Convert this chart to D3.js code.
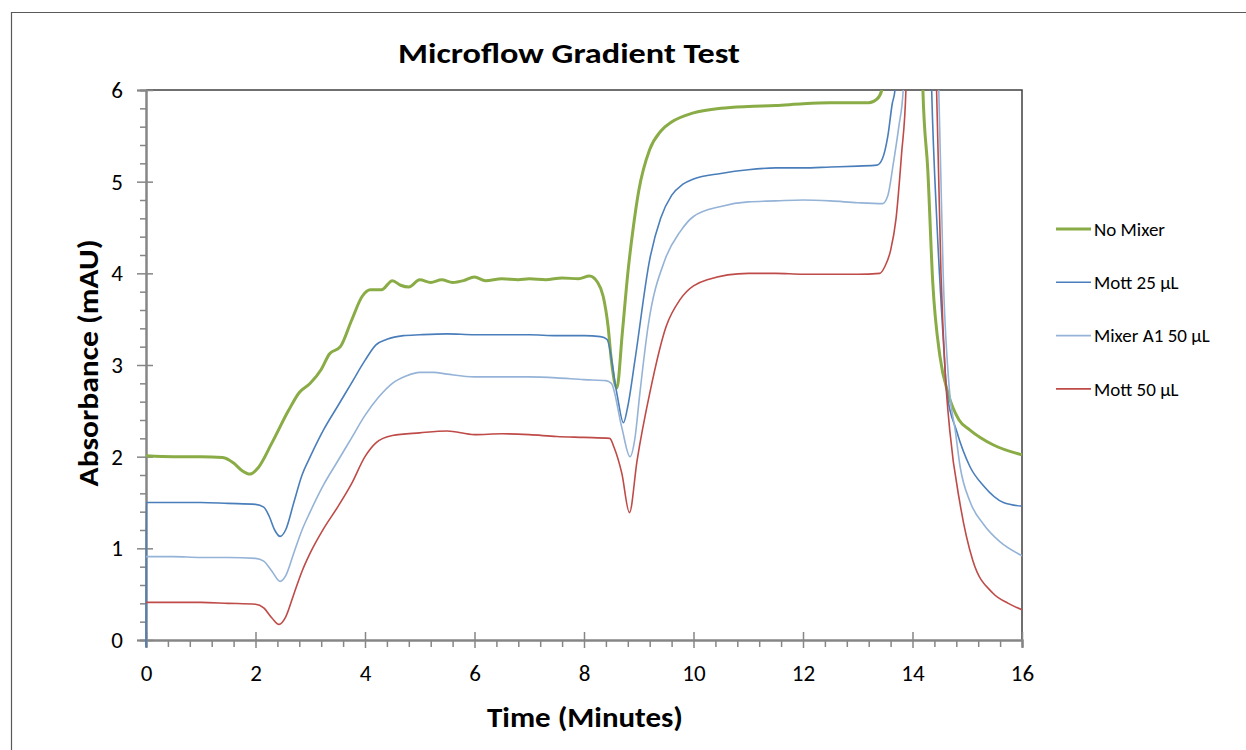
<!DOCTYPE html>
<html>
<head>
<meta charset="utf-8">
<script src="https://cdn.jsdelivr.net/npm/d3@7"></script>
<style>
    body { margin: 0; background: #fff; }
    text { font-family: Carlito, Calibri, Lato, sans-serif; fill: #000; }
</style>
</head>
<body>
<div id="chart"></div>
<script>
// tick values
const xTicks = [0, 2, 4, 6, 8, 10, 12, 14, 16];
const yTicks = [0, 1, 2, 3, 4, 5, 6];
const seriesNames = ["No Mixer", "Mott 25 µL", "Mixer A1 50 µL", "Mott 50 µL"];

// [time (min), absorbance (mAU)]
const noMixer = [[0, 2.01], [0.5, 2.0], [1.0, 2.0], [1.4, 1.99], [1.6, 1.93], [1.75, 1.85], [1.9, 1.81], [2.05, 1.88],
    [2.3, 2.15], [2.6, 2.5], [2.8, 2.7], [3.0, 2.8], [3.2, 2.95], [3.35, 3.12], [3.55, 3.2], [3.75, 3.48], [3.95, 3.75],
    [4.1, 3.82], [4.3, 3.82], [4.5, 3.92], [4.65, 3.87], [4.8, 3.85], [5.0, 3.93], [5.2, 3.9], [5.4, 3.93], [5.6, 3.9],
    [5.8, 3.92], [6.0, 3.96], [6.2, 3.92], [6.5, 3.94], [6.8, 3.93], [7.0, 3.94], [7.3, 3.93], [7.6, 3.95], [7.9, 3.94],
    [8.1, 3.97], [8.25, 3.9], [8.35, 3.75], [8.44, 3.42], [8.5, 3.05], [8.6, 2.75], [8.7, 3.35], [8.8, 4.0], [8.9, 4.5],
    [9.0, 4.9], [9.2, 5.35], [9.4, 5.55], [9.6, 5.65], [10.0, 5.75], [10.5, 5.8], [11.0, 5.82], [11.5, 5.83], [12.0, 5.85],
    [12.5, 5.86], [13.0, 5.86], [13.2, 5.86], [13.35, 5.9], [13.44, 6.0], [13.55, 7.5], [13.7, 9], [14.1, 9], [14.19, 6.0],
    [14.28, 5.12], [14.37, 3.9], [14.5, 3.1], [14.65, 2.69], [14.85, 2.4], [15.05, 2.29], [15.47, 2.13], [16, 2.02]];

const mott25 = [[0, -0.08], [0.004, 1.5], [0.5, 1.5], [1.0, 1.5], [1.5, 1.49], [2.0, 1.48], [2.15, 1.45], [2.25, 1.35],
    [2.35, 1.2], [2.45, 1.13], [2.55, 1.2], [2.7, 1.5], [2.85, 1.8], [3.0, 2.0], [3.25, 2.3], [3.5, 2.55], [3.75, 2.8],
    [4.0, 3.05], [4.2, 3.22], [4.4, 3.28], [4.7, 3.32], [5.0, 3.33], [5.5, 3.34], [6.0, 3.33], [6.5, 3.33], [7.0, 3.33],
    [7.5, 3.32], [8.0, 3.32], [8.3, 3.31], [8.42, 3.28], [8.6, 2.69], [8.72, 2.37], [8.8, 2.55], [8.93, 3.05], [9.2, 4.15],
    [9.4, 4.6], [9.6, 4.85], [9.8, 4.97], [10.0, 5.03], [10.5, 5.09], [11.0, 5.13], [11.5, 5.15], [12.0, 5.15], [12.5, 5.16],
    [13.0, 5.17], [13.35, 5.18], [13.45, 5.25], [13.55, 5.5], [13.63, 5.85], [13.68, 6.0], [13.8, 9], [14.25, 9],
    [14.35, 6.0], [14.45, 4.5], [14.55, 3.4], [14.63, 2.69], [14.8, 2.29], [15.05, 1.89], [15.3, 1.68], [15.66, 1.5], [16, 1.46]];

const mixerA1 = [[0, 0.91], [0.5, 0.91], [1.0, 0.9], [1.5, 0.9], [2.0, 0.89], [2.15, 0.86], [2.3, 0.75], [2.45, 0.64],
    [2.55, 0.7], [2.7, 0.95], [2.85, 1.2], [3.0, 1.4], [3.25, 1.7], [3.5, 1.95], [3.75, 2.2], [4.0, 2.45], [4.25, 2.65],
    [4.5, 2.8], [4.75, 2.88], [5.0, 2.92], [5.25, 2.92], [5.5, 2.9], [6.0, 2.87], [6.5, 2.87], [7.0, 2.87], [7.5, 2.86],
    [8.0, 2.84], [8.4, 2.83], [8.5, 2.8], [8.69, 2.32], [8.84, 2.0], [8.93, 2.2], [9.02, 2.69], [9.17, 3.42], [9.48, 4.15],
    [9.75, 4.45], [10.0, 4.62], [10.5, 4.73], [11.0, 4.78], [11.5, 4.79], [12.0, 4.8], [12.5, 4.79], [13.0, 4.77],
    [13.45, 4.76], [13.55, 4.85], [13.65, 5.2], [13.75, 5.6], [13.83, 6.0], [13.9, 9], [14.4, 9], [14.48, 6.0],
    [14.56, 4.0], [14.68, 2.69], [14.78, 2.29], [14.87, 1.89], [15.05, 1.51], [15.3, 1.26], [15.6, 1.07], [16, 0.92]];

const mott50 = [[0, 0.41], [0.5, 0.41], [1.0, 0.41], [1.5, 0.4], [2.0, 0.39], [2.15, 0.35], [2.3, 0.24], [2.43, 0.17],
    [2.55, 0.25], [2.7, 0.5], [2.85, 0.75], [3.0, 0.95], [3.25, 1.22], [3.5, 1.45], [3.75, 1.7], [4.0, 2.0], [4.2, 2.15],
    [4.5, 2.23], [5.0, 2.26], [5.5, 2.28], [6.0, 2.24], [6.5, 2.25], [7.0, 2.24], [7.5, 2.22], [8.0, 2.21], [8.47, 2.2],
    [8.55, 2.1], [8.69, 1.82], [8.83, 1.39], [8.97, 1.96], [9.2, 2.69], [9.5, 3.42], [9.75, 3.71], [10.25, 3.93],
    [11.0, 4.0], [11.5, 4.0], [12.0, 3.99], [12.5, 3.99], [13.0, 3.99], [13.4, 4.0], [13.5, 4.08], [13.6, 4.25],
    [13.7, 4.6], [13.8, 5.3], [13.88, 6.0], [13.95, 9], [14.35, 9], [14.44, 6.0], [14.52, 4.0], [14.6, 2.89],
    [14.68, 2.29], [14.87, 1.48], [15.1, 0.87], [15.47, 0.51], [15.75, 0.4], [16, 0.33]];

const seriesData = [noMixer, mott25, mixerA1, mott50];
const colors = ["#8aac46", "#4a7ebb", "#95b3d7", "#be4b48"];
const widths = [3, 1.6, 1.6, 1.6];

let W = 1246, H = 750;
let margin = { top: 90, right: 224, bottom: 110, left: 146 },
    width = W - margin.left - margin.right,
    height = H - margin.top - margin.bottom;

let svg = d3.select("#chart")
    .append("svg")
    .attr("width", W)
    .attr("height", H);

// outer chart frame
svg.append("path")
    .attr("d", "M11.5," + (H + 5) + "V12.5H" + (W + 5))
    .attr("fill", "none")
    .attr("stroke", "#595959")
    .attr("stroke-width", 1.2);

svg.append("text")
    .attr("x", 569)
    .attr("y", 63)
    .attr("text-anchor", "middle")
    .attr("textLength", 342)
    .attr("lengthAdjust", "spacingAndGlyphs")
    .style("font-size", "29px")
    .style("font-weight", "bold")
    .text("Microflow Gradient Test");

let g = svg.append("g")
    .attr("transform", "translate(" + margin.left + "," + margin.top + ")");

let x = d3.scaleLinear().domain([0, 16]).range([0, width]);
let y = d3.scaleLinear().domain([0, 6]).range([height, 0]);

// plot border (top / right)
g.append("path")
    .attr("d", "M0,0H" + width + "V" + height)
    .attr("fill", "none")
    .attr("stroke", "#404040")
    .attr("stroke-width", 1.5);

g.append("clipPath")
    .attr("id", "plotClip")
    .append("rect")
    .attr("x", -2).attr("y", 0)
    .attr("width", width + 3).attr("height", height + 10);

let line = d3.line()
    .x(d => x(d[0]))
    .y(d => y(d[1]))
    .curve(d3.curveMonotoneX);

// minor ticks
let xMinor = d3.range(0, 16.01, 0.4).filter(v => Math.abs(v / 2 - Math.round(v / 2)) > 0.01);
let yMinor = d3.range(0, 6.01, 0.2).filter(v => Math.abs(v - Math.round(v)) > 0.01);

g.append("g")
    .attr("class", "minor")
    .attr("transform", "translate(0," + height + ")")
    .call(d3.axisBottom(x).tickValues(xMinor).tickSize(7).tickFormat(""));
g.append("g")
    .attr("class", "minor")
    .call(d3.axisLeft(y).tickValues(yMinor).tickSize(6).tickFormat(""));

let xAxis = g.append("g")
    .attr("transform", "translate(0," + height + ")")
    .call(d3.axisBottom(x).tickValues(xTicks).tickSize(8).tickPadding(16).tickFormat(d3.format("d")));
xAxis.selectAll(".tick line").attr("y1", -8);

let yAxis = g.append("g")
    .call(d3.axisLeft(y).tickValues(yTicks).tickSize(9).tickPadding(14).tickFormat(d3.format("d")));
yAxis.selectAll(".tick line").attr("x1", 7);

g.selectAll(".domain").attr("stroke", "#868686").attr("stroke-width", 2);
g.selectAll(".tick line").attr("stroke", "#868686").attr("stroke-width", 1.5);
g.selectAll(".tick text").style("font-size", "23px").attr("fill", "#000");
xAxis.selectAll(".tick text").attr("dy", "0.72em");

// series
g.append("g")
    .attr("clip-path", "url(#plotClip)")
    .selectAll("path")
    .data(seriesData)
    .enter()
    .append("path")
    .attr("d", line)
    .attr("fill", "none")
    .attr("stroke", (d, i) => colors[i])
    .attr("stroke-width", (d, i) => widths[i])
    .attr("stroke-linejoin", "round");

// axis titles
svg.append("text")
    .attr("x", 585)
    .attr("y", 727)
    .attr("text-anchor", "middle")
    .attr("textLength", 196)
    .attr("lengthAdjust", "spacingAndGlyphs")
    .style("font-size", "28px")
    .style("font-weight", "bold")
    .text("Time (Minutes)");

svg.append("text")
    .attr("transform", "translate(98,363)rotate(-90)")
    .attr("text-anchor", "middle")
    .attr("textLength", 247)
    .attr("lengthAdjust", "spacingAndGlyphs")
    .style("font-size", "28px")
    .style("font-weight", "bold")
    .text("Absorbance (mAU)");

// legend
let legend = svg.append("g")
    .selectAll("g")
    .data(seriesNames)
    .enter()
    .append("g")
    .attr("transform", (d, i) => "translate(1056," + (229 + i * 53.3) + ")");
legend.append("line")
    .attr("x1", 0).attr("x2", 35)
    .attr("stroke", (d, i) => colors[i])
    .attr("stroke-width", (d, i) => widths[i]);
legend.append("text")
    .attr("x", 38)
    .attr("dy", "0.35em")
    .style("font-size", "19px")
    .text(d => d);
</script>
</body>
</html>
